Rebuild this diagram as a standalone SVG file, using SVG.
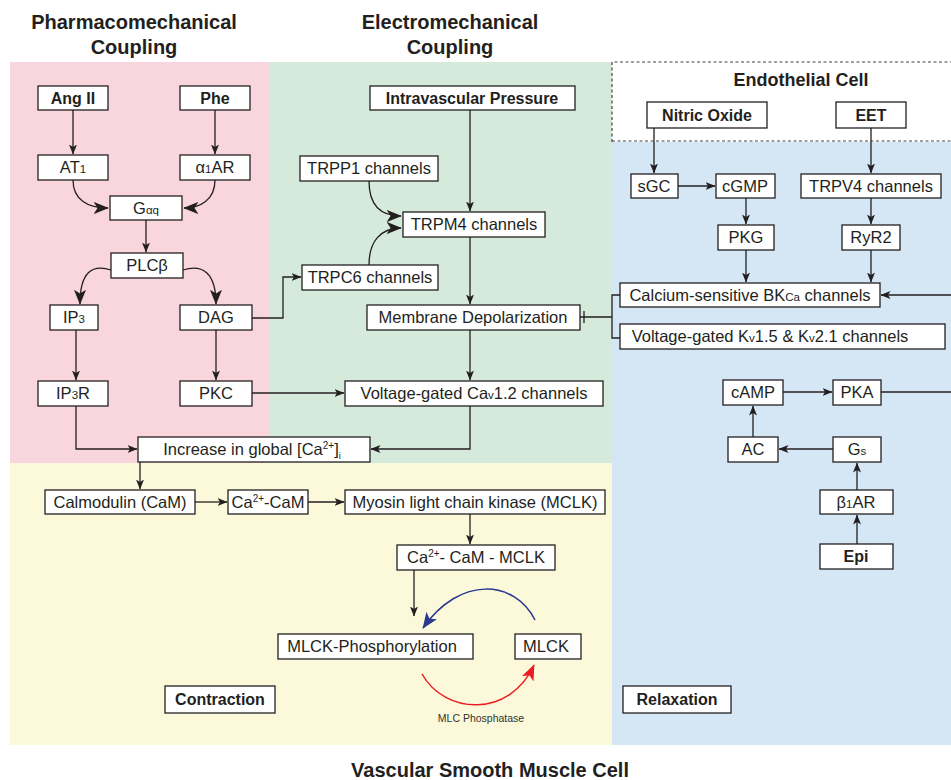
<svg xmlns="http://www.w3.org/2000/svg" width="951" height="780" viewBox="0 0 951 780">
<defs>
<style>
.bx{fill:#fff;stroke:#231f20;stroke-width:1.3}
.t{font-family:"Liberation Sans",Arial,sans-serif;font-size:16.5px;fill:#231f20;text-anchor:middle}
.b{font-weight:bold;font-size:16px}
.h{font-family:"Liberation Sans",Arial,sans-serif;font-weight:bold;fill:#231f20;text-anchor:middle}
.s{font-size:11.5px}
.c{fill:none;stroke:#231f20;stroke-width:1.3}
</style>
<marker id="ah" viewBox="0 0 10 10" refX="9.5" refY="5" markerWidth="10" markerHeight="10" markerUnits="userSpaceOnUse" orient="auto"><path d="M0,1 L10,5 L0,9 L2.5,5 z" fill="#231f20"/></marker>
<marker id="ahL" viewBox="0 0 10 10" refX="9.5" refY="5" markerWidth="15" markerHeight="15" markerUnits="userSpaceOnUse" orient="auto"><path d="M0,1 L10,5 L0,9 L2.5,5 z" fill="#231f20"/></marker>
<marker id="ahB" viewBox="0 0 10 10" refX="9.5" refY="5" markerWidth="16" markerHeight="16" markerUnits="userSpaceOnUse" orient="auto"><path d="M0,1 L10,5 L0,9 L2.5,5 z" fill="#2b3990"/></marker>
<marker id="ahR" viewBox="0 0 10 10" refX="9.5" refY="5" markerWidth="16" markerHeight="16" markerUnits="userSpaceOnUse" orient="auto"><path d="M0,1 L10,5 L0,9 L2.5,5 z" fill="#ed1c24"/></marker>
</defs>
<rect width="951" height="780" fill="#fff"/>
<!-- backgrounds -->
<rect x="10" y="62" width="260" height="401" fill="#f9d6de"/>
<rect x="270" y="62" width="342" height="401" fill="#d6eadc"/>
<rect x="10" y="463" width="602" height="282" fill="#fbf9d9"/>
<rect x="612" y="142" width="339" height="603" fill="#d5e7f5"/>
<path d="M612,142 V62 H951 M612,141 H951" fill="none" stroke="#444" stroke-width="1.2" stroke-dasharray="3,2.5"/>
<!-- titles -->
<text class="h" x="134" y="29" font-size="20">Pharmacomechanical</text>
<text class="h" x="134" y="54" font-size="20">Coupling</text>
<text class="h" x="450" y="29" font-size="20">Electromechanical</text>
<text class="h" x="450" y="54" font-size="20">Coupling</text>
<text class="h" x="801" y="86" font-size="18">Endothelial Cell</text>
<text class="h" x="490" y="777" font-size="20">Vascular Smooth Muscle Cell</text>
<g id="connectors">
<path class="c" d="M73,110 V154" marker-end="url(#ah)"/>
<path class="c" d="M215,110 V154" marker-end="url(#ah)"/>
<path class="c" d="M73,180 C73,200 88,208 108,208" marker-end="url(#ahL)"/>
<path class="c" d="M215,180 C215,200 200,208 184,208" marker-end="url(#ahL)"/>
<path class="c" d="M146,220 V252" marker-end="url(#ah)"/>
<path class="c" d="M111,270 C92,264 80,272 80,304" marker-end="url(#ahL)"/>
<path class="c" d="M183,270 C202,264 216,272 216,304" marker-end="url(#ahL)"/>
<path class="c" d="M76,330 V380" marker-end="url(#ah)"/>
<path class="c" d="M216,330 V380" marker-end="url(#ah)"/>
<path class="c" d="M252,318 H283 V277 H301" marker-end="url(#ah)"/>
<path class="c" d="M369,181 C369,205 380,216 401,216" marker-end="url(#ahL)"/>
<path class="c" d="M369,265 C369,242 380,228 401,228" marker-end="url(#ahL)"/>
<path class="c" d="M470,110 V211" marker-end="url(#ah)"/>
<path class="c" d="M470,237 V304" marker-end="url(#ah)"/>
<path class="c" d="M470,330 V380" marker-end="url(#ah)"/>
<path class="c" d="M252,393 H344" marker-end="url(#ah)"/>
<path class="c" d="M76,406 V449 H137" marker-end="url(#ah)"/>
<path class="c" d="M470,406 V449 H371" marker-end="url(#ah)"/>
<path class="c" d="M140,462 V489" marker-end="url(#ah)"/>
<path class="c" d="M195,502 H227" marker-end="url(#ah)"/>
<path class="c" d="M308,502 H344" marker-end="url(#ah)"/>
<path class="c" d="M470,514 V544" marker-end="url(#ah)"/>
<path class="c" d="M414,570 V616" marker-end="url(#ah)"/>
<path d="M535,620 C515,580 460,575 423,628" fill="none" stroke="#2b3990" stroke-width="1.5" marker-end="url(#ahB)"/>
<path d="M422,674 C445,715 510,718 534,665" fill="none" stroke="#ed1c24" stroke-width="1.5" marker-end="url(#ahR)"/>
<path class="c" d="M580,317 H612 M584,311 V323 M620,295 H612 V338 H620" stroke-width="1.8"/>
<path class="c" d="M654,128 V173" marker-end="url(#ah)"/>
<path class="c" d="M678,186 H715" marker-end="url(#ah)"/>
<path class="c" d="M746,198 V224" marker-end="url(#ah)"/>
<path class="c" d="M871,128 V173" marker-end="url(#ah)"/>
<path class="c" d="M871,198 V224" marker-end="url(#ah)"/>
<path class="c" d="M746,250 V282" marker-end="url(#ah)"/>
<path class="c" d="M871,250 V282" marker-end="url(#ah)"/>
<path class="c" d="M951,295 H881" marker-end="url(#ah)"/>
<path class="c" d="M881,392 H951"/>
<path class="c" d="M783,392 H832" marker-end="url(#ah)"/>
<path class="c" d="M753,437 V406" marker-end="url(#ah)"/>
<path class="c" d="M833,449 H779" marker-end="url(#ah)"/>
<path class="c" d="M857,490 V463" marker-end="url(#ah)"/>
<path class="c" d="M857,544 V515" marker-end="url(#ah)"/>
</g>
<text x="481" y="722" font-family="'Liberation Sans',Arial,sans-serif" font-size="10.5" fill="#333" text-anchor="middle">MLC Phosphatase</text>
<g id="angii"><rect class="bx" x="38" y="86" width="70" height="24"/><text class="t b" x="73" y="104">Ang II</text></g>
<g id="phe"><rect class="bx" x="180" y="86" width="70" height="24"/><text class="t b" x="215" y="104">Phe</text></g>
<g id="at1"><rect class="bx" x="38" y="155" width="70" height="25"/><text class="t" x="73" y="173">AT<tspan class="s">1</tspan></text></g>
<g id="a1ar"><rect class="bx" x="180" y="155" width="70" height="25"/><text class="t" x="215" y="173">α<tspan class="s">1</tspan>AR</text></g>
<g id="gaq"><rect class="bx" x="110" y="196" width="72" height="24"/><text class="t" x="146" y="214">G<tspan class="s">αq</tspan></text></g>
<g id="plcb"><rect class="bx" x="111" y="253" width="72" height="25"/><text class="t" x="147" y="271">PLCβ</text></g>
<g id="ip3"><rect class="bx" x="50" y="305" width="48" height="25"/><text class="t" x="74" y="323">IP<tspan class="s">3</tspan></text></g>
<g id="dag"><rect class="bx" x="180" y="305" width="72" height="25"/><text class="t" x="216" y="323">DAG</text></g>
<g id="ip3r"><rect class="bx" x="38" y="381" width="70" height="25"/><text class="t" x="73" y="399">IP<tspan class="s">3</tspan>R</text></g>
<g id="pkc"><rect class="bx" x="180" y="381" width="72" height="25"/><text class="t" x="216" y="399">PKC</text></g>
<g id="ca_inc"><rect class="bx" x="138" y="437" width="232" height="25"/><text class="t" x="252" y="455">Increase in global [Ca<tspan font-size="10" dy="-6">2+</tspan><tspan dy="6">]</tspan><tspan font-size="9" dy="4">i</tspan></text></g>
<g id="cam"><rect class="bx" x="45" y="490" width="150" height="24"/><text class="t" x="120" y="508">Calmodulin (CaM)</text></g>
<g id="ca_cam"><rect class="bx" x="228" y="490" width="80" height="24"/><text class="t" x="268" y="508">Ca<tspan font-size="10" dy="-6">2+</tspan><tspan dy="6">-CaM</tspan></text></g>
<g id="mlck_long"><rect class="bx" x="345" y="490" width="260" height="24"/><text class="t" x="475" y="508">Myosin light chain kinase (MCLK)</text></g>
<g id="ca_cam_mclk"><rect class="bx" x="397" y="545" width="158" height="25"/><text class="t" x="476" y="563">Ca<tspan font-size="10" dy="-6">2+</tspan><tspan dy="6">- CaM - MCLK</tspan></text></g>
<g id="mlck_phos"><rect class="bx" x="278" y="634" width="195" height="25"/><text class="t" x="372" y="652">MLCK-Phosphorylation</text></g>
<g id="mlck"><rect class="bx" x="515" y="634" width="66" height="25"/><text class="t" x="546" y="652">MLCK</text></g>
<g id="contraction"><rect class="bx" x="165" y="686" width="110" height="27"/><text class="t b" x="220" y="705">Contraction</text></g>
<g id="relaxation"><rect class="bx" x="623" y="686" width="108" height="27"/><text class="t b" x="677" y="705">Relaxation</text></g>
<g id="ivp"><rect class="bx" x="370" y="86" width="205" height="24"/><text class="t b" x="472" y="104">Intravascular Pressure</text></g>
<g id="trpp1"><rect class="bx" x="300" y="156" width="138" height="25"/><text class="t" x="369" y="174">TRPP1 channels</text></g>
<g id="trpm4"><rect class="bx" x="403" y="212" width="142" height="25"/><text class="t" x="474" y="230">TRPM4 channels</text></g>
<g id="trpc6"><rect class="bx" x="302" y="265" width="136" height="25"/><text class="t" x="370" y="283">TRPC6 channels</text></g>
<g id="memdep"><rect class="bx" x="367" y="305" width="213" height="25"/><text class="t" x="473" y="323">Membrane Depolarization</text></g>
<g id="cav12"><rect class="bx" x="345" y="381" width="258" height="25"/><text class="t" x="474" y="399">Voltage-gated Ca<tspan class="s">v</tspan>1.2 channels</text></g>
<g id="no"><rect class="bx" x="647" y="102" width="120" height="26"/><text class="t b" x="707" y="121">Nitric Oxide</text></g>
<g id="eet"><rect class="bx" x="836" y="102" width="70" height="26"/><text class="t b" x="871" y="121">EET</text></g>
<g id="sgc"><rect class="bx" x="631" y="174" width="47" height="24"/><text class="t" x="654" y="192">sGC</text></g>
<g id="cgmp"><rect class="bx" x="716" y="174" width="59" height="24"/><text class="t" x="745" y="192">cGMP</text></g>
<g id="trpv4"><rect class="bx" x="801" y="174" width="140" height="24"/><text class="t" x="871" y="192">TRPV4 channels</text></g>
<g id="pkg"><rect class="bx" x="718" y="225" width="56" height="25"/><text class="t" x="746" y="243">PKG</text></g>
<g id="ryr2"><rect class="bx" x="842" y="225" width="58" height="25"/><text class="t" x="871" y="243">RyR2</text></g>
<g id="bkca"><rect class="bx" x="620" y="283" width="260" height="24"/><text class="t" x="750" y="301">Calcium-sensitive BK<tspan class="s">Ca</tspan> channels</text></g>
<g id="kv"><rect class="bx" x="620" y="324" width="325" height="25"/><text class="t" x="770" y="342">Voltage-gated K<tspan class="s">v</tspan>1.5 &amp; K<tspan class="s">v</tspan>2.1 channels</text></g>
<g id="camp"><rect class="bx" x="723" y="380" width="60" height="25"/><text class="t" x="753" y="398">cAMP</text></g>
<g id="pka"><rect class="bx" x="833" y="380" width="48" height="25"/><text class="t" x="857" y="398">PKA</text></g>
<g id="ac"><rect class="bx" x="728" y="437" width="50" height="25"/><text class="t" x="753" y="455">AC</text></g>
<g id="gs"><rect class="bx" x="833" y="437" width="48" height="25"/><text class="t" x="857" y="455">G<tspan class="s">s</tspan></text></g>
<g id="b1ar"><rect class="bx" x="820" y="490" width="73" height="24"/><text class="t" x="856" y="508">β<tspan class="s">1</tspan>AR</text></g>
<g id="epi"><rect class="bx" x="820" y="544" width="73" height="25"/><text class="t b" x="856" y="562">Epi</text></g>
</svg>
